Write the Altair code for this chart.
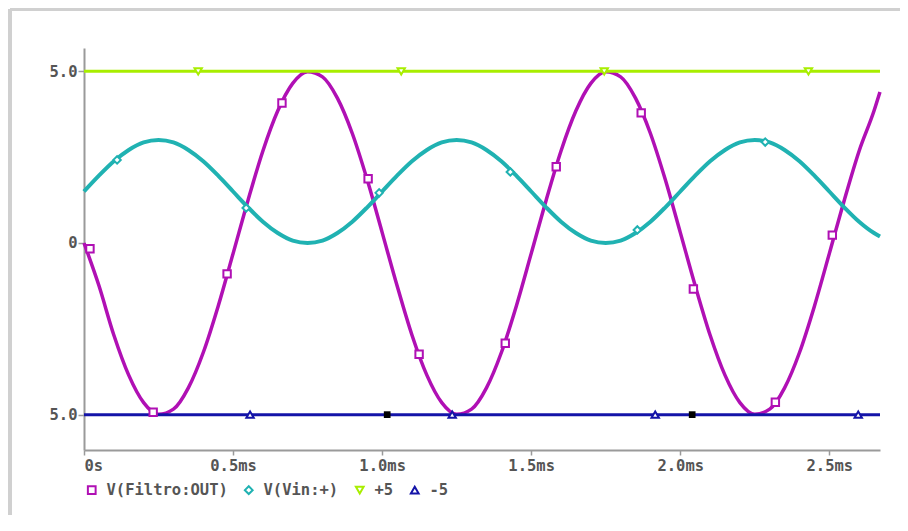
import altair as alt
import pandas as pd

# ---------------- data (time in ms, values in V) ----------------
t_ms = [0.0, 0.05, 0.1, 0.15, 0.2, 0.25, 0.3, 0.35, 0.4, 0.45,
        0.5, 0.55, 0.6, 0.65, 0.7, 0.75, 0.8, 0.85, 0.9, 0.95,
        1.0, 1.05, 1.1, 1.15, 1.2, 1.25, 1.3, 1.35, 1.4, 1.45,
        1.5, 1.55, 1.6, 1.65, 1.7, 1.75, 1.8, 1.85, 1.9, 1.95,
        2.0, 2.05, 2.1, 2.15, 2.2, 2.25, 2.3, 2.35, 2.4, 2.45,
        2.5, 2.55, 2.6, 2.65, 2.67]

v_filtro_out = [0.0, -1.24, -2.68, -3.85, -4.65, -4.99, -4.84, -4.22, -3.19, -1.84,
                -0.31, 1.24, 2.68, 3.85, 4.65, 4.99, 4.84, 4.22, 3.19, 1.84,
                0.31, -1.24, -2.68, -3.85, -4.65, -4.99, -4.84, -4.22, -3.19, -1.84,
                -0.31, 1.24, 2.68, 3.85, 4.65, 4.99, 4.84, 4.22, 3.19, 1.84,
                0.31, -1.24, -2.68, -3.85, -4.65, -4.99, -4.84, -4.22, -3.19, -1.84,
                -0.31, 1.24, 2.68, 3.85, 4.4]

v_vin = [1.5, 1.96, 2.38, 2.71, 2.93, 3.0, 2.93, 2.71, 2.38, 1.96,
         1.5, 1.04, 0.62, 0.29, 0.07, 0.0, 0.07, 0.29, 0.62, 1.04,
         1.5, 1.96, 2.38, 2.71, 2.93, 3.0, 2.93, 2.71, 2.38, 1.96,
         1.5, 1.04, 0.62, 0.29, 0.07, 0.0, 0.07, 0.29, 0.62, 1.04,
         1.5, 1.96, 2.38, 2.71, 2.93, 3.0, 2.93, 2.71, 2.38, 1.96,
         1.5, 1.04, 0.62, 0.29, 0.19]

rail_t = [0.0, 2.67]
rail_pos = [5.0, 5.0]
rail_neg = [-5.0, -5.0]

# marker positions
out_mk_t = [0.02, 0.232, 0.48, 0.664, 0.953, 1.124, 1.413, 1.584, 1.869, 2.044, 2.319, 2.51]
out_mk_v = [-0.17, -4.93, -0.9, 4.08, 1.87, -3.24, -2.92, 2.22, 3.79, -1.34, -4.64, 0.23]
vin_mk_t = [0.111, 0.544, 0.99, 1.43, 1.856, 2.285]
vin_mk_v = [2.42, 1.02, 1.46, 2.07, 0.38, 2.94]
pos_mk_t = [0.383, 1.064, 1.745, 2.43]
neg_mk_t = [0.557, 1.235, 1.916, 2.597]
cursor_t = [1.017, 2.04]

series = ["V(Filtro:OUT)", "V(Vin:+)", "+5", "-5"]
colors = ["#b010b4", "#20b2b2", "#a8ee00", "#1414a8"]
shapes = ["square", "diamond", "triangle-down", "triangle-up"]

x_ticks = [0, 0.5, 1.0, 1.5, 2.0, 2.5]
y_ticks = [-5, 0, 5]

FONT = "DejaVu Sans Mono"
TXT = "#555555"
AX = "#9a9a9a"
FS = 15.5

# ---------------- tables ----------------
df_out = pd.DataFrame({"t": t_ms, "v": v_filtro_out})
df_vin = pd.DataFrame({"t": t_ms, "v": v_vin})
df_pos = pd.DataFrame({"t": rail_t, "v": rail_pos})
df_neg = pd.DataFrame({"t": rail_t, "v": rail_neg})

mk_rows = []
for t, v in zip(out_mk_t, out_mk_v):
    mk_rows.append({"t": t, "v": v, "s": series[0]})
for t, v in zip(vin_mk_t, vin_mk_v):
    mk_rows.append({"t": t, "v": v, "s": series[1]})
for t in pos_mk_t:
    mk_rows.append({"t": t, "v": 5.0, "s": series[2]})
for t in neg_mk_t:
    mk_rows.append({"t": t, "v": -5.0, "s": series[3]})
df_mk = pd.DataFrame(mk_rows)
df_cur = pd.DataFrame({"t": cursor_t, "v": [-5.0] * len(cursor_t)})
dummy = pd.DataFrame({"a": [0]})

x_enc = alt.X(
    "t:Q",
    scale=alt.Scale(domain=[0, 2.67], nice=False, zero=False),
    axis=alt.Axis(
        values=x_ticks,
        labelExpr="datum.value == 0 ? '0s' : format(datum.value, '.1f') + 'ms'",
        title=None, grid=False, domainColor=AX, domainWidth=2,
        tickColor=AX, tickWidth=1.5, tickSize=5, labelFont=FONT, labelFontSize=FS,
        labelFontWeight="bold", labelColor=TXT, labelPadding=3,
    ),
)
y_enc = alt.Y(
    "v:Q",
    scale=alt.Scale(domain=[-6.03, 5.68], nice=False, zero=False),
    axis=alt.Axis(
        values=y_ticks,
        labelExpr="datum.value == 0 ? '0' : format(abs(datum.value), '.1f')",
        title=None, grid=False, domainColor=AX, domainWidth=2,
        tickColor=AX, tickWidth=1.5, tickSize=6, labelFont=FONT, labelFontSize=FS,
        labelFontWeight="bold", labelColor=TXT, labelPadding=1,
    ),
)

line_out = alt.Chart(df_out).mark_line(color=colors[0], strokeWidth=3.5, interpolate="monotone").encode(x=x_enc, y=y_enc)
line_vin = alt.Chart(df_vin).mark_line(color=colors[1], strokeWidth=4, interpolate="monotone").encode(x="t:Q", y="v:Q")
line_pos = alt.Chart(df_pos).mark_line(color=colors[2], strokeWidth=3).encode(x="t:Q", y="v:Q")
line_neg = alt.Chart(df_neg).mark_line(color=colors[3], strokeWidth=3).encode(x="t:Q", y="v:Q")

markers = alt.Chart(df_mk).mark_point(
    filled=False, fill="white", fillOpacity=1, opacity=1, strokeWidth=2, size=55
).encode(
    x="t:Q", y="v:Q",
    color=alt.Color("s:N", scale=alt.Scale(domain=series, range=colors),
                    legend=alt.Legend(
                        title=None, orient="none", direction="horizontal", columns=4,
                        legendX=0, legendY=434, padding=0, columnPadding=12,
                        labelFont=FONT, labelFontSize=FS, labelFontWeight="bold",
                        labelColor=TXT, labelOffset=7, symbolSize=60,
                        symbolStrokeWidth=2, symbolFillColor="white",
                    )),
    shape=alt.Shape("s:N", scale=alt.Scale(domain=series, range=shapes)),
)

cursors = alt.Chart(df_cur).mark_point(
    shape="square", filled=True, color="black", size=45, opacity=1
).encode(x="t:Q", y="v:Q")

frame_left = alt.Chart(dummy).mark_rule(color="#d0d0d0", strokeWidth=4).encode(
    x=alt.value(-74), y=alt.value(-39), y2=alt.value(470))
frame_top = alt.Chart(dummy).mark_rule(color="#d0d0d0", strokeWidth=4).encode(
    x=alt.value(-74), x2=alt.value(816), y=alt.value(-39))

chart = alt.layer(
    frame_left, frame_top, line_out, line_vin, line_pos, line_neg, markers, cursors
).properties(
    width=796, height=402,
    padding={"left": 76, "top": 40, "right": 20, "bottom": 65},
    autosize="none",
    background="white",
).configure_view(strokeWidth=0, stroke="transparent")

chart.save("out.html", embed_options={"renderer": "svg", "actions": False})
